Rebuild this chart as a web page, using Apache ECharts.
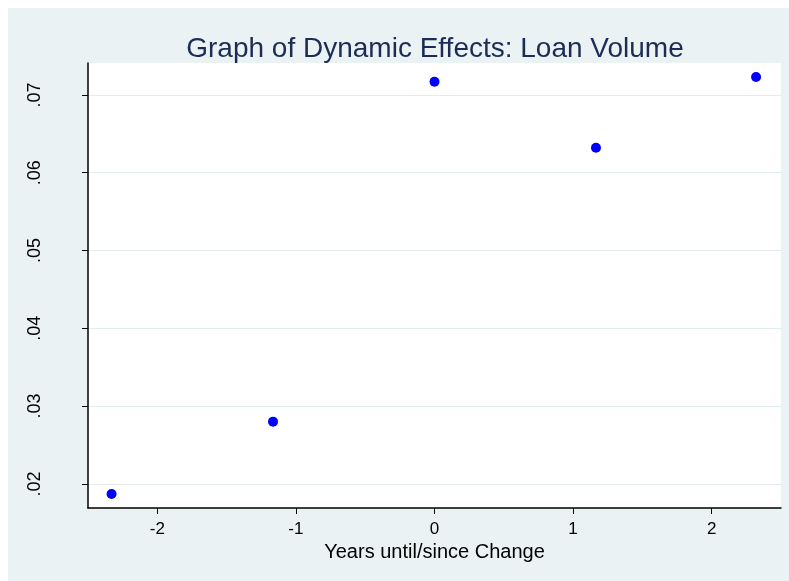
<!DOCTYPE html>
<html>
<head>
<meta charset="utf-8">
<script src="https://cdn.jsdelivr.net/npm/echarts@6/dist/echarts.min.js"></script>
<style>
  html, body { margin: 0; padding: 0; background: #ffffff; }
  #chart { position: absolute; left: 8px; top: 8px; width: 781px; height: 573px; }
</style>
</head>
<body>
<div id="chart"></div>
<script>
  // data
  var xValues = [-2.33, -1.165, 0, 1.165, 2.32]
  var yValues = [0.0187, 0.0280, 0.0717, 0.0632, 0.0723]
  var xTicks = [-2, -1, 0, 1, 2]
  var yTicks = [0.02, 0.03, 0.04, 0.05, 0.06, 0.07]

  var points = xValues.map(function (x, i) { return [x, yValues[i]] })
  var font = '"Liberation Sans", Arial, sans-serif'

  var myChart = echarts.init(document.getElementById('chart'))
  myChart.setOption({
    backgroundColor: '#eaf2f3',
    animation: false,
    title: {
      text: 'Graph of Dynamic Effects: Loan Volume',
      left: 422,
      top: 22,
      textAlign: 'center',
      textStyle: {
        color: '#1c2c55',
        fontSize: 28,
        fontWeight: 'normal',
        fontFamily: font
      }
    },
    grid: {
      left: 80,
      right: 8,
      top: 55,
      bottom: 73,
      show: true,
      backgroundColor: '#ffffff',
      borderWidth: 0
    },
    xAxis: {
      type: 'value',
      min: -2.5,
      max: 2.5,
      name: 'Years until/since Change',
      nameLocation: 'middle',
      nameGap: 34,
      nameTextStyle: { color: '#000', fontSize: 20, fontFamily: font },
      axisLine: { show: true, onZero: false, lineStyle: { color: '#000', width: 1.5 } },
      axisTick: { show: true, length: 6, customValues: xTicks, lineStyle: { color: '#000' } },
      axisLabel: { customValues: xTicks, color: '#000', fontSize: 17, fontFamily: font, margin: 13 },
      splitLine: { show: false }
    },
    yAxis: {
      type: 'value',
      min: 0.0169,
      max: 0.0741,
      axisLine: { show: true, onZero: false, lineStyle: { color: '#000', width: 1.5 } },
      axisTick: { show: true, length: 6, customValues: yTicks, lineStyle: { color: '#000' } },
      axisLabel: {
        customValues: yTicks,
        rotate: 90,
        margin: 44,
        color: '#000',
        fontSize: 18,
        fontFamily: font,
        formatter: function (v) { return v.toFixed(2).replace(/^0/, '') }
      },
      splitLine: { show: true, lineStyle: { color: '#e3edef', width: 1 } }
    },
    series: [
      {
        type: 'scatter',
        data: points,
        symbol: 'circle',
        symbolSize: 10,
        itemStyle: { color: '#0000ff', opacity: 1 }
      }
    ]
  })
</script>
</body>
</html>
